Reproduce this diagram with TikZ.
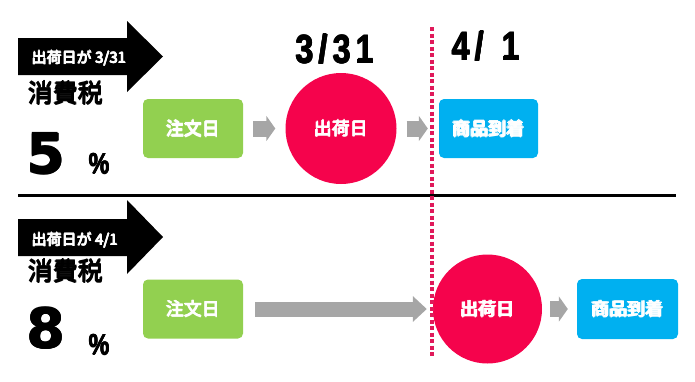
\documentclass[tikz,border=0pt]{standalone}
\usepackage{fontspec}
\usetikzlibrary{arrows.meta}
\newfontfamily\jp{Noto Sans CJK JP}
\newfontfamily\numfont{Liberation Sans}
\newfontfamily\digitfont{DejaVu Sans}
\definecolor{ordergreen}{HTML}{92D050}
\definecolor{shipred}{HTML}{F5034C}
\definecolor{arriveblue}{HTML}{00B0F0}
\definecolor{flowgray}{HTML}{A6A6A6}
\definecolor{cutred}{HTML}{E0195A}
% heavy text: the text set several times, a little apart
\newcommand\fat[2][0.6pt]{\leavevmode
  \rlap{#2}\rlap{\kern#1#2}%
  \rlap{\kern\dimexpr#1/2\relax\raise\dimexpr#1/2\relax\hbox{#2}}%
  \rlap{\kern\dimexpr#1/2\relax\lower\dimexpr#1/2\relax\hbox{#2}}%
  \kern#1#2}

\begin{document}
\begin{tikzpicture}[x=1pt, y=-1pt,
    box/.style={rounded corners=5pt, minimum width=100pt, minimum height=59pt, text=white, font=\jp\fontsize{18}{18}\selectfont},
    ship/.style={circle, fill=shipred, inner sep=0pt, text=white, font=\jp\fontsize{18}{18}\selectfont},
    flow/.style={draw=flowgray, line width=16pt, -{Triangle[length=9pt, width=25pt]}},
    label/.style={inner sep=0pt, font=\jp\fontsize{25}{25}\selectfont},
    cond/.style={anchor=west, inner sep=0pt, text=white, font=\jp\fontsize{15}{15}\selectfont},
    rate/.style={inner sep=0pt, font=\digitfont\bfseries\fontsize{55}{55}\selectfont},
    pct/.style={inner sep=0pt, font=\numfont\bfseries\fontsize{29}{29}\selectfont},
    date/.style={inner sep=0pt, font=\numfont\bfseries\fontsize{40}{40}\selectfont}]
    \useasboundingbox (0,0) rectangle (695,381);

    % shipped on 3/31
    \fill (18,38) -- (127,38) -- (127,21) -- (163,56.5) -- (127,92) -- (127,75) -- (18,75) -- cycle;
    \node[cond] (cond1) at (31,58) {\fat[1pt]{出荷日が 3/31}};
    \node[label, anchor=west] (tax1) at (27,93) {\fat[1.6pt]{消費税}};
    \node[rate] (rate1) at (46,154) {\fat[1.6pt]{5}};
    \node[pct] (pct1) at (99,164) {\scalebox{0.8}[1]{\fat[1pt]{\%}}};

    \node[box, fill=ordergreen] (order1) at (193,128.5) {\fat[1.3pt]{注文日}};
    \node[ship, minimum size=111pt] (ship1) at (341,128.5) {\fat[1.3pt]{出荷日}};
    \node[box, fill=arriveblue, minimum width=99pt] (arrive1) at (488.5,128.5) {\fat[1.3pt]{商品到着}};
    \draw[flow, shorten <=10pt, shorten >=10pt] (order1) -- (ship1);
    \draw[flow, shorten <=10pt, shorten >=11pt] (ship1) -- (arrive1);

    \node[date] (date1) at (335,49) {\scalebox{0.8}[1]{\fat[1pt]{3\,/\,3\,1}}};
    \node[date] (date2) at (486,46) {\scalebox{0.8}[1]{\fat[1pt]{4\,/\;\;1}}};

    % divider
    \draw[line width=3pt] (18,195) -- (676,195);

    % shipped on 4/1
    \fill (18,219) -- (127,219) -- (127,200) -- (163,237) -- (127,274) -- (127,256) -- (18,256) -- cycle;
    \node[cond] (cond2) at (31,240) {\fat[1pt]{出荷日が 4/1}};
    \node[label, anchor=west] (tax2) at (27,271) {\fat[1.6pt]{消費税}};
    \node[rate] (rate2) at (46,328) {\fat[1.6pt]{8}};
    \node[pct] (pct2) at (99,345) {\scalebox{0.8}[1]{\fat[1pt]{\%}}};

    \node[box, fill=ordergreen] (order2) at (193,309) {\fat[1.3pt]{注文日}};
    \node[ship, minimum size=109pt] (ship2) at (487.5,309) {\fat[1.3pt]{出荷日}};
    \node[box, fill=arriveblue, minimum width=101pt, minimum height=60pt] (arrive2) at (627.5,309) {\fat[1.3pt]{商品到着}};
    \draw[flow, line width=15pt, -{Triangle[length=14pt, width=25pt]}, shorten <=12pt, shorten >=6pt] (order2) -- (ship2);
    \draw[flow, shorten <=8pt, shorten >=9pt] (ship2) -- (arrive2);

    % cut-off line
    \coordinate (cutTop) at (432,27);
    \coordinate (cutBot) at (432,358);
    \draw[cutred, line width=4pt, dash pattern=on 4pt off 2.5pt] (cutTop) -- (cutBot);
\end{tikzpicture}
\end{document}
